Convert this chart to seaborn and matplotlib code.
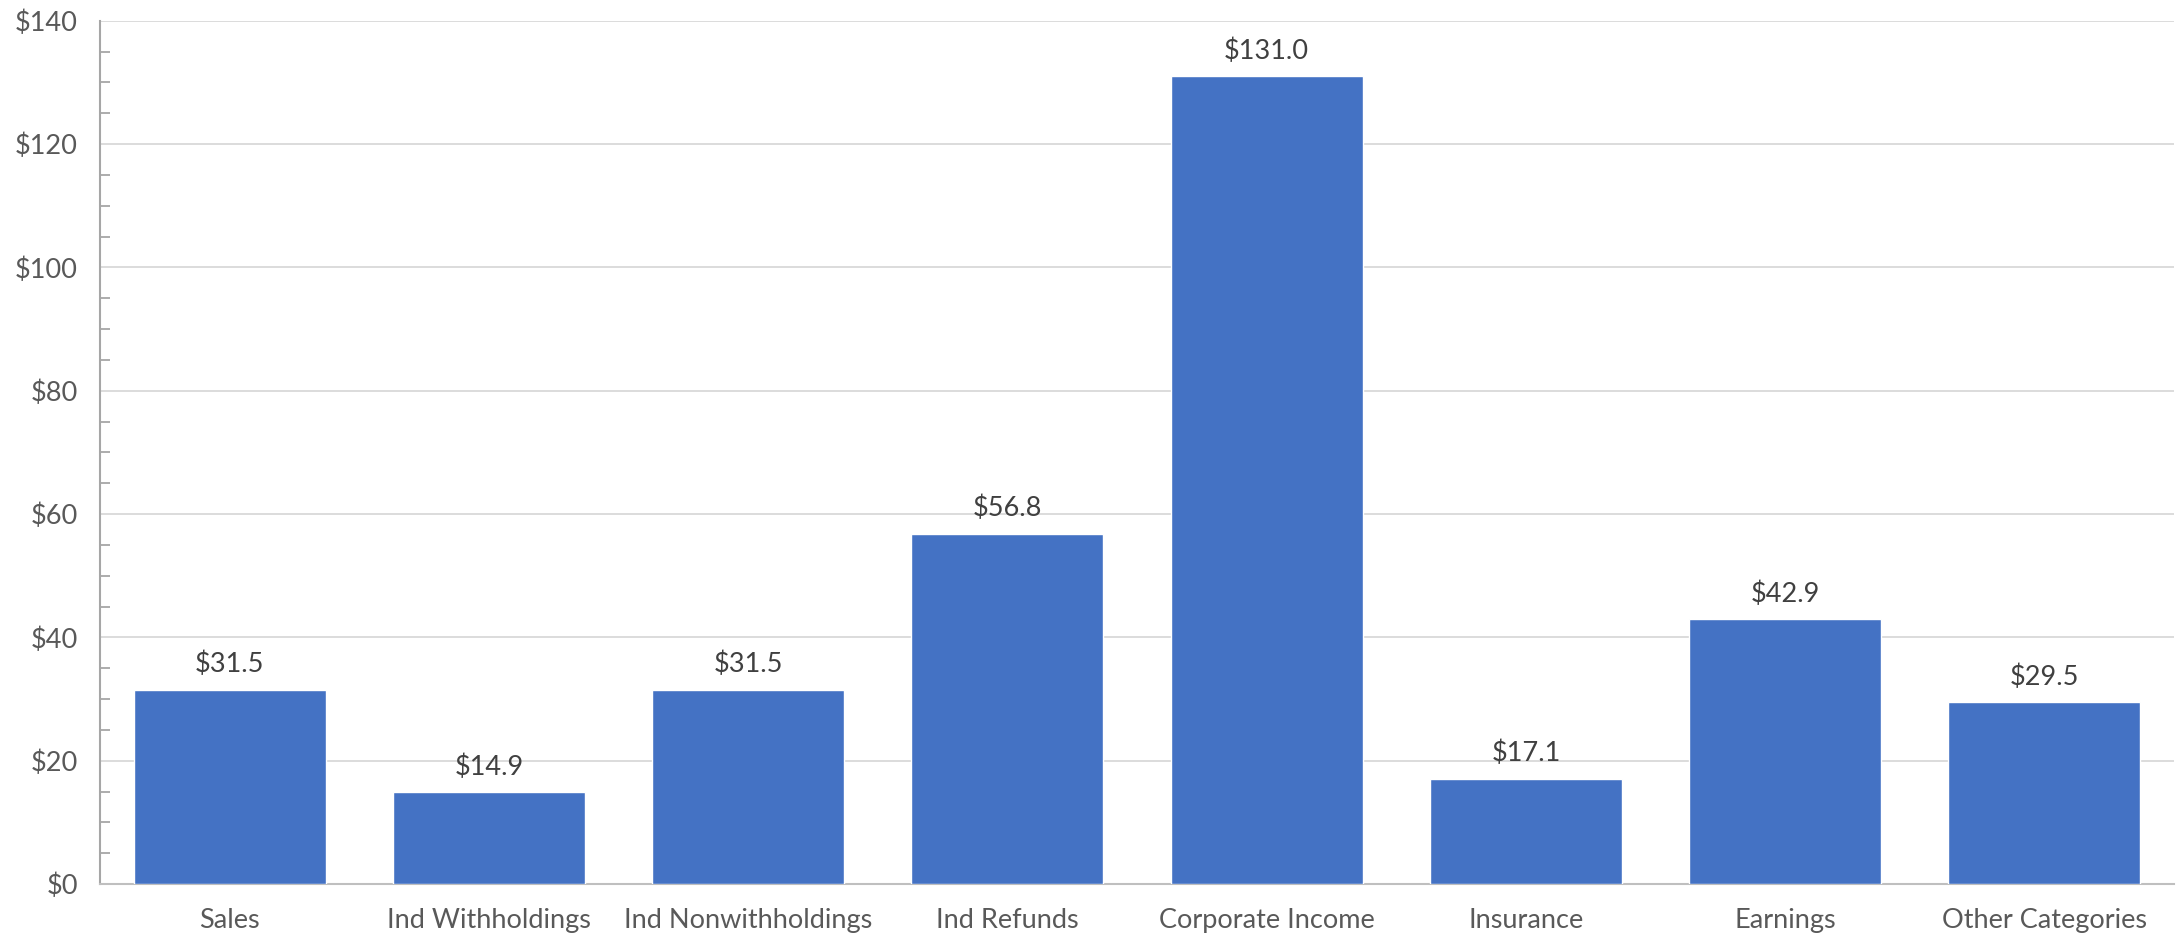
import matplotlib
matplotlib.use("Agg")
import matplotlib.pyplot as plt
import seaborn as sns
import pandas as pd
from matplotlib.ticker import MultipleLocator, FuncFormatter

categories = ["Sales", "Ind Withholdings", "Ind Nonwithholdings", "Ind Refunds",
              "Corporate Income", "Insurance", "Earnings", "Other Categories"]
values = [31.5, 14.9, 31.5, 56.8, 131.0, 17.1, 42.9, 29.5]

df = pd.DataFrame({"category": categories, "value": values})

sns.set_style("white")
plt.rcParams['font.family'] = ['Lato', 'DejaVu Sans']

fig = plt.figure(figsize=(21.76, 9.39), dpi=100)
ax = fig.add_axes([100/2176, 1 - 884/939, (2174-100)/2176, (884-20.7)/939])

sns.barplot(data=df, x="category", y="value", color="#4472C4", saturation=1,
            width=0.74, ax=ax, zorder=3)

ax.set_ylim(0, 140)
ax.set_xlim(-0.5, len(categories) - 0.5)
ax.yaxis.set_major_locator(MultipleLocator(20))
ax.yaxis.set_minor_locator(MultipleLocator(5))
ax.yaxis.set_major_formatter(FuncFormatter(lambda v, p: f"${v:.0f}"))
ax.grid(axis="y", which="major", color="#D9D9D9", linewidth=1.3, zorder=0)
ax.set_axisbelow(True)

for s in ["top", "right"]:
    ax.spines[s].set_visible(False)
ax.spines["left"].set_color("#A6A6A6")
ax.spines["bottom"].set_color("#BFBFBF")
ax.spines["left"].set_linewidth(1.5)
ax.spines["bottom"].set_linewidth(1.5)

fs = 19.5
ax.tick_params(axis="y", which="major", direction="out", length=10, width=1.3,
               color="#A6A6A6", labelsize=fs, labelcolor="#595959", pad=6)
ax.tick_params(axis="y", which="minor", direction="in", length=7, width=1.3,
               color="#A6A6A6", left=True)
ax.tick_params(axis="x", which="both", length=0, labelsize=fs,
               labelcolor="#595959", pad=17)

ax.set_xlabel("")
ax.set_ylabel("")

for i, v in enumerate(values):
    ax.annotate(f"${v:.1f}", xy=(i, v), xytext=(0, 9), textcoords="offset points",
                ha="center", va="bottom", fontsize=fs, color="#404040")

fig.savefig("out.png", dpi=100)
